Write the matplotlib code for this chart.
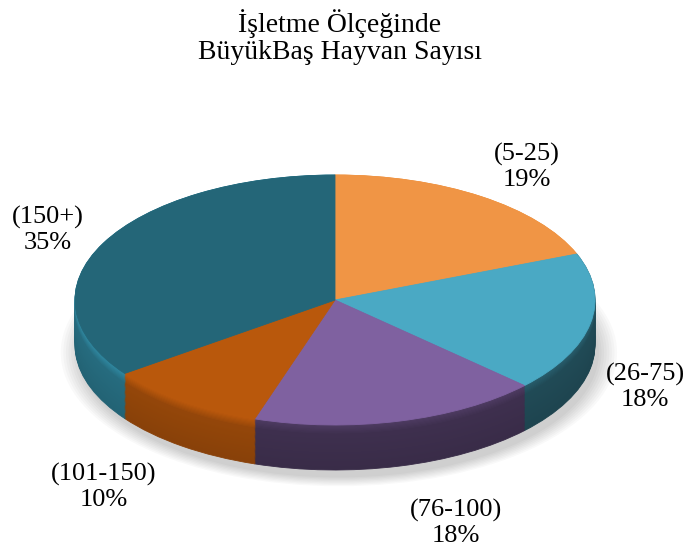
import numpy as np
import matplotlib.pyplot as plt
from matplotlib.colors import to_rgb

# veri
categories = ['(5-25)', '(26-75)', '(76-100)', '(101-150)', '(150+)']
shares = [19, 18, 18, 10, 35]
colors = ['#F09545', '#4AA9C4', '#7F61A0', '#B9580C', '#246678']
title = 'İşletme Ölçeğinde\nBüyükBaş Hayvan Sayısı'

# yan yüzeyin ışık katsayıları (sol üstten ışık)
side_light = [0.8, 0.45, 0.5, 0.82, 1.08]

W, H = 688, 551
plt.rcParams['font.family'] = ['Liberation Serif', 'DejaVu Serif']
fig = plt.figure(figsize=(W / 100, H / 100), dpi=100)
ax = fig.add_axes([0, 0, 1, 1])

# elips geometrisi (piksel)
cx, cy = 335, 300
rx, ry = 260, 125
depth = 45 / ry

def shade(c, f):
    return tuple(np.clip(np.array(to_rgb(c)) * f, 0, 1))

# gölge
for k in range(8):
    ax.pie([1], colors=['#000000'], startangle=90, radius=1.0 + 0.01 * k,
           center=(0.015, -depth - 0.06), wedgeprops=dict(alpha=0.025, linewidth=0))

# yan yüzey: üst üste yığılmış pastalar
n = 40
for i in range(n):
    t = i / (n - 1)            # 0 alt, 1 üst
    d = depth * (1 - t)
    g = 0.9 + 0.1 * t
    if t > 0.8:
        g = 1.0 + 1.2 * (t - 0.8)
    cols = [shade(c, f * g) for c, f in zip(colors, side_light)]
    wedges, _ = ax.pie(shares, colors=cols, startangle=90, counterclock=False,
                       center=(0, -d), wedgeprops=dict(linewidth=0.6))
    for w in wedges:
        w.set_edgecolor(w.get_facecolor())

# üst yüzey
wedges, _ = ax.pie(shares, colors=colors, startangle=90, counterclock=False,
                   center=(0, 0), wedgeprops=dict(linewidth=0.6))
for w in wedges:
    w.set_edgecolor(w.get_facecolor())

ax.set_aspect('auto')
ax.set_xlim(-cx / rx, (W - cx) / rx)
ax.set_ylim(-(H - cy) / ry, cy / ry)
ax.axis('off')

# etiketler
label_px = [(527, 167), (645, 387), (456, 523), (104, 487), (48, 230)]
for cat, s, (px, py) in zip(categories, shares, label_px):
    fig.text(px / W, 1 - py / H, f'{cat}\n{s}%', ha='center', va='center',
             fontsize=19, linespacing=1.15, color='#000000')

fig.text(340 / W, 1 - 37 / H, title, ha='center', va='center',
         fontsize=20, linespacing=1.15)

fig.savefig('out.png', dpi=100)
